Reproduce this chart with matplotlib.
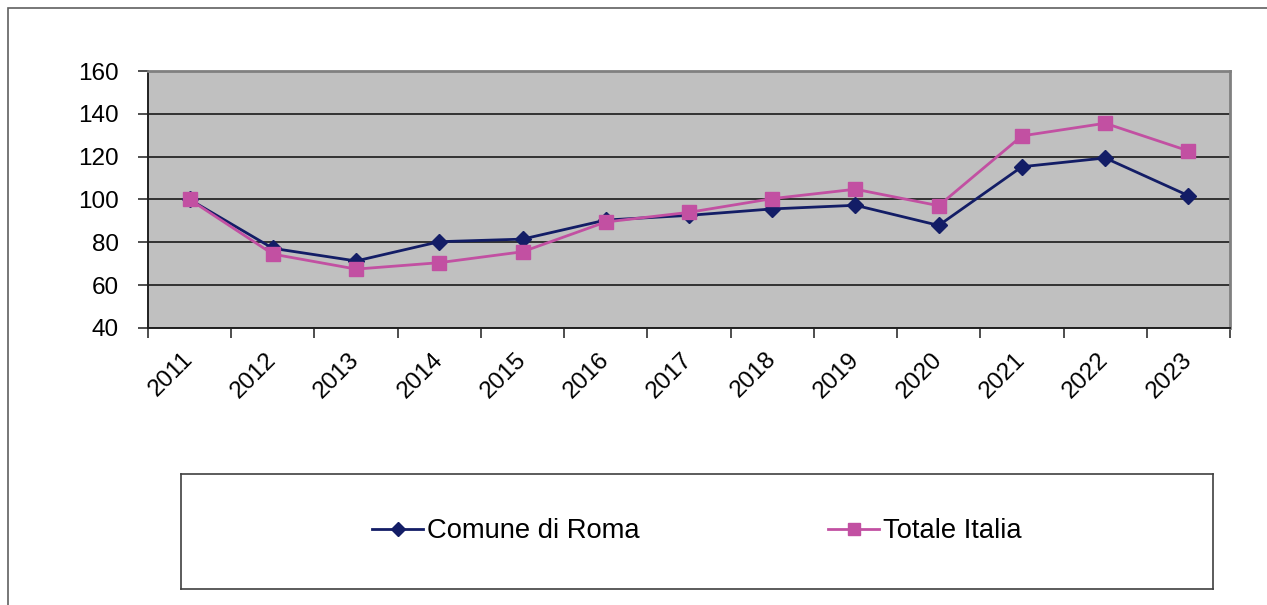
import matplotlib.pyplot as plt
from matplotlib.patches import Rectangle

plt.rcParams['font.family'] = ['Liberation Sans', 'DejaVu Sans']

anni = ['2011', '2012', '2013', '2014', '2015', '2016', '2017',
        '2018', '2019', '2020', '2021', '2022', '2023']
roma = [100, 77.2, 71.3, 80.3, 81.5, 90.4, 92.6, 95.6, 97.3, 87.9, 115.3, 119.4, 101.8]
italia = [100, 74.5, 67.5, 70.5, 75.6, 89.5, 94.0, 100.4, 104.8, 97.1, 129.7, 135.6, 122.7]

W, H = 1267, 605
fig = plt.figure(figsize=(W / 100, H / 100), dpi=100)

# outer chart border (only left and top visible in the crop)
fig.patches.append(Rectangle((8 / W, -0.1), 1.2, (H - 8) / H + 0.1,
                             transform=fig.transFigure, fill=False,
                             edgecolor='#606060', linewidth=1.2))

ax = fig.add_axes([148 / W, 1 - 328 / H, (1230 - 148) / W, (328 - 71) / H])
ax.set_facecolor('#c0c0c0')

x = range(len(anni))
l1, = ax.plot(x, roma, color='#131d66', linewidth=2, marker='D',
              markersize=8, label='Comune di Roma', zorder=3)
l2, = ax.plot(x, italia, color='#c250a2', linewidth=2, marker='s',
              markersize=10, label='Totale Italia', zorder=3)

ax.set_xlim(-0.5, len(anni) - 0.5)
ax.set_ylim(40, 160)
ax.set_yticks(range(40, 161, 20))
ax.yaxis.grid(True, color='#1a1a1a', linewidth=1.2)
ax.set_axisbelow(True)

# category axis: tick marks on the boundaries, labels at centres
ax.set_xticks([i - 0.5 for i in range(len(anni) + 1)])
ax.set_xticklabels([])
ax.tick_params(axis='x', direction='out', length=7, width=1.2, color='#303030')
ax.tick_params(axis='y', direction='out', length=7, width=1.2, color='#303030',
               labelsize=17.5, pad=14)
for i, a in enumerate(anni):
    ax.annotate(a, xy=(i, 0), xycoords=('data', 'axes fraction'),
                xytext=(0, -28), textcoords='offset pixels',
                rotation=45, rotation_mode='anchor', ha='right', va='center',
                fontsize=17.5)

for s in ['left', 'bottom']:
    ax.spines[s].set_color('#202020')
    ax.spines[s].set_linewidth(1.4)
for s in ['top', 'right']:
    ax.spines[s].set_color('#808080')
    ax.spines[s].set_linewidth(2)

# legend box
lax = fig.add_axes([181 / W, 1 - 589 / H, (1213 - 181) / W, (589 - 474) / H])
lax.set_xticks([])
lax.set_yticks([])
for s in lax.spines.values():
    s.set_color('#404040')
    s.set_linewidth(1.2)
lax.legend(handles=[l1, l2], loc='center', ncol=2, frameon=False,
           fontsize=19.7, handlelength=1.85, handletextpad=0.15,
           columnspacing=6.9, markerscale=0.85, bbox_to_anchor=(0.5, 0.5))

fig.savefig('out.png', dpi=100)
